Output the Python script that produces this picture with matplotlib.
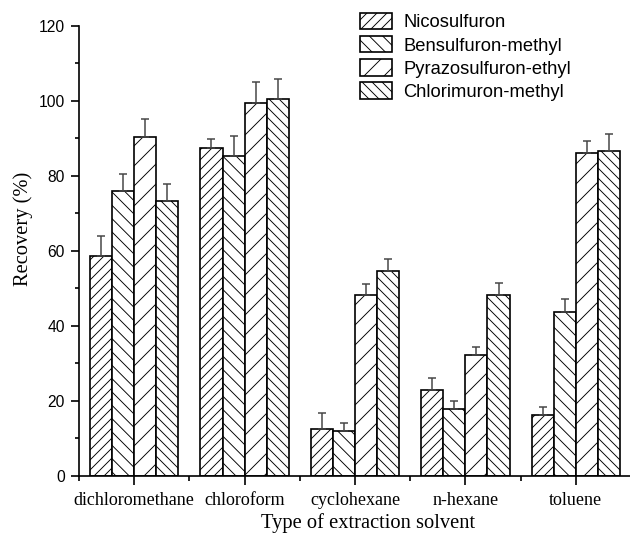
import matplotlib
matplotlib.use('Agg')
import matplotlib.pyplot as plt
import matplotlib.ticker as mticker
import numpy as np

solvents = ['dichloromethane', 'chloroform', 'cyclohexane', 'n-hexane', 'toluene']
herbicides = ['Nicosulfuron', 'Bensulfuron-methyl', 'Pyrazosulfuron-ethyl', 'Chlorimuron-methyl']

# recovery (%) per herbicide, one value per solvent
nicosulfuron = [58.6, 87.3, 12.4, 22.9, 16.1]
bensulfuron  = [76.0, 85.3, 11.9, 17.7, 43.7]
pyrazosulfuron = [90.4, 99.5, 48.1, 32.2, 86.0]
chlorimuron  = [73.3, 100.5, 54.6, 48.3, 86.7]

# upper error (sd)
nico_err  = [5.3, 2.4, 4.2, 3.2, 2.2]
bens_err  = [4.4, 5.3, 2.2, 2.1, 3.3]
pyra_err  = [4.6, 5.6, 3.1, 2.1, 3.3]
chlor_err = [4.4, 5.4, 3.2, 3.2, 4.3]

plt.rcParams['hatch.linewidth'] = 0.55
plt.rcParams['hatch.color'] = '#333333'

fig = plt.figure(figsize=(5.25, 4.475), dpi=120)
ax = fig.add_axes([79/630., 61.3/537., 552/630., 450/537.])

series = [nicosulfuron, bensulfuron, pyrazosulfuron, chlorimuron]
errs = [nico_err, bens_err, pyra_err, chlor_err]
hatches = ['////', '\\\\\\', '//', '\\\\\\\\']

x = np.arange(len(solvents))
w = 0.2
for j in range(4):
    ax.bar(x + (j - 1.5)*w, series[j], w, facecolor='white', edgecolor='black',
           linewidth=1.0, hatch=hatches[j], label=herbicides[j],
           yerr=[np.zeros(len(solvents)), errs[j]],
           error_kw=dict(ecolor='#444444', elinewidth=0.9, capsize=2.4, capthick=0.9))

ax.set_xlim(-0.5, 4.5)
ax.set_ylim(0, 120)
ax.spines['top'].set_visible(False)
ax.spines['right'].set_visible(False)
for s in ['left', 'bottom']:
    ax.spines[s].set_linewidth(1.0)

ax.set_xticks(x)
ax.set_xticklabels(solvents, family='Liberation Serif', fontsize=10.8)
ax.xaxis.set_minor_locator(mticker.FixedLocator(np.arange(-0.5, 4.6, 1.0)))
ax.yaxis.set_major_locator(mticker.MultipleLocator(20))
ax.yaxis.set_minor_locator(mticker.MultipleLocator(10))
ax.tick_params(axis='x', which='major', direction='out', length=5.4, width=1.0, pad=4.2)
ax.tick_params(axis='x', which='minor', direction='out', length=3.0, width=1.0)
ax.tick_params(axis='y', which='major', direction='out', length=4.8, width=1.0, pad=3.6)
ax.tick_params(axis='y', which='minor', direction='out', length=2.4, width=1.0)
for lab in ax.get_yticklabels():
    lab.set_family('Liberation Sans')
    lab.set_fontsize(9.4)

ax.set_ylabel('Recovery (%)', family='Liberation Serif', fontsize=12.3)
ax.set_xlabel('Type of extraction solvent', family='Liberation Serif', fontsize=12.3)
ax.yaxis.set_label_coords(-0.083, 0.548)
ax.xaxis.set_label_coords(0.523, -0.083)

ax.legend(loc='upper left', bbox_to_anchor=(360/630., 1 - 13/537.),
          bbox_transform=fig.transFigure, frameon=False, borderpad=0, borderaxespad=0,
          handlelength=1.75, handleheight=1.0, handletextpad=0.6,
          labelspacing=0.25, prop={'family': 'Liberation Sans', 'size': 11})

fig.savefig('out.png', dpi=120)
